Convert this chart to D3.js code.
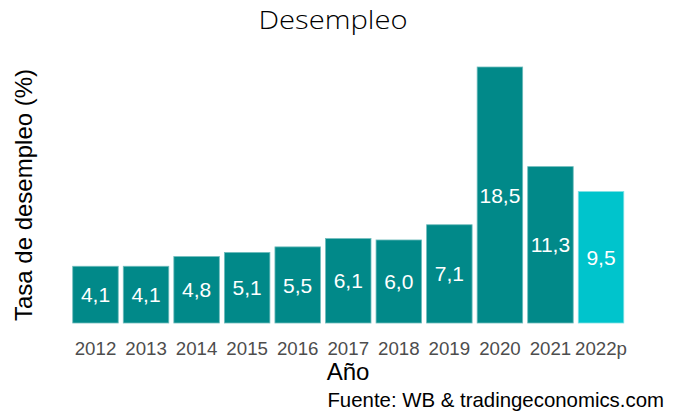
<!DOCTYPE html>
<html>
<head>
<meta charset="utf-8">
<script src="https://cdn.jsdelivr.net/npm/d3@7"></script>
<style>
  body { margin: 0; background: #fff; }
  text { font-family: "Liberation Sans", Arial, sans-serif; }
</style>
</head>
<body>
<div id="chart"></div>
<script>
const years = ["2012", "2013", "2014", "2015", "2016", "2017", "2018", "2019", "2020", "2021", "2022p"];
const rates = [4.1, 4.1, 4.8, 5.1, 5.5, 6.1, 6.0, 7.1, 18.5, 11.3, 9.5];
const projected = ["2022p"];

const width = 673, height = 417;
const plot = { left: 70.2, right: 626.3, top: 67, bottom: 323 };

const svg = d3.select("#chart").append("svg")
    .attr("width", width)
    .attr("height", height);

const x = d3.scaleBand().domain(years).range([plot.left, plot.right])
    .paddingInner(0.1).paddingOuter(0.05);
const y = d3.scaleLinear().domain([0, 18.5]).range([plot.bottom, plot.top]);

const data = years.map((yr, i) => ({ year: yr, value: rates[i] }));
const fmt = v => d3.format(".1f")(v).replace(".", ",");

// bars
svg.selectAll("rect.bar")
    .data(data)
    .enter().append("rect")
    .attr("class", "bar")
    .attr("x", d => x(d.year))
    .attr("y", d => y(d.value))
    .attr("width", x.bandwidth())
    .attr("height", d => y(0) - y(d.value))
    .attr("fill", d => projected.includes(d.year) ? "#00c4cc" : "#018989")
    .attr("stroke", d => projected.includes(d.year) ? "#7fe0e4" : "#6fbcbc")
    .attr("stroke-width", 0.8);

// value labels in the middle of each bar
svg.selectAll("text.val")
    .data(data)
    .enter().append("text")
    .attr("class", "val")
    .attr("x", d => x(d.year) + x.bandwidth() / 2)
    .attr("y", d => (y(d.value) + y(0)) / 2)
    .attr("dy", "0.36em")
    .attr("text-anchor", "middle")
    .attr("fill", "#fff")
    .style("font-size", "21px")
    .text(d => fmt(d.value));

// x axis (labels only)
const xAxis = svg.append("g")
    .attr("transform", `translate(0,${plot.bottom})`)
    .call(d3.axisBottom(x).tickSize(0).tickPadding(19));
xAxis.select(".domain").remove();
xAxis.selectAll("text")
    .attr("fill", "#4d4d4d")
    .style("font-family", "'Liberation Sans', Arial, sans-serif")
    .style("font-size", "18.7px");

// titles
svg.append("text")
    .attr("x", 333)
    .attr("y", 28.5)
    .attr("text-anchor", "middle")
    .attr("fill", "#000")
    .attr("textLength", 149)
    .attr("lengthAdjust", "spacingAndGlyphs")
    .style("font-family", "'Open Sans', sans-serif")
    .style("font-weight", 300)
    .style("font-size", "25px")
    .text("Desempleo");

svg.append("text")
    .attr("x", 348)
    .attr("y", 380)
    .attr("text-anchor", "middle")
    .attr("fill", "#000")
    .style("font-size", "24px")
    .text("Año");

svg.append("text")
    .attr("transform", `translate(32,195) rotate(-90)`)
    .attr("text-anchor", "middle")
    .attr("fill", "#000")
    .style("font-size", "24px")
    .text("Tasa de desempleo (%)");

svg.append("text")
    .attr("x", 664)
    .attr("y", 407)
    .attr("text-anchor", "end")
    .attr("fill", "#000")
    .style("font-size", "20.4px")
    .text("Fuente: WB & tradingeconomics.com");
</script>
</body>
</html>
